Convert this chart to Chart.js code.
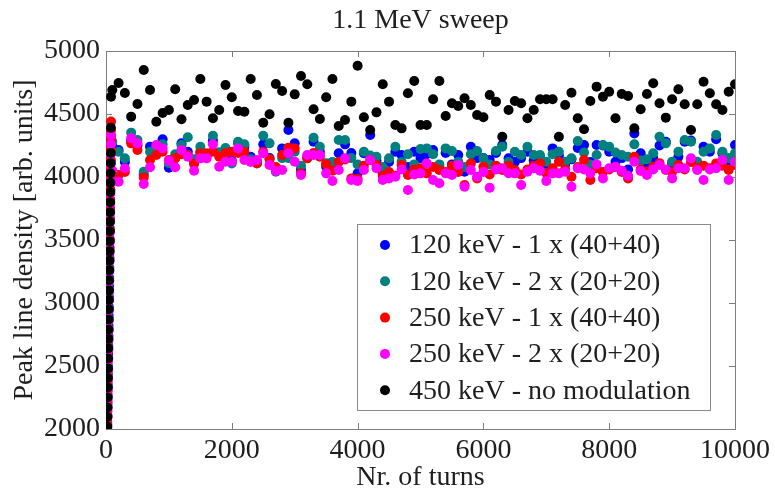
<!DOCTYPE html>
<html>
<head>
<meta charset="utf-8">
<script src="https://cdn.jsdelivr.net/npm/chart.js@4.4.1/dist/chart.umd.min.js"></script>
<style>
  html, body { margin: 0; padding: 0; background: #fff; }
  #wrap { width: 775px; height: 492px; }
</style>
</head>
<body>
<div id="wrap"><canvas id="myChart" width="775" height="492"></canvas></div>
<script>
// turns of the regular samples (every 100 turns)
var turns = [
  100, 200, 300, 400, 500, 600, 700, 800, 900, 1000,
  1100, 1200, 1300, 1400, 1500, 1600, 1700, 1800, 1900, 2000,
  2100, 2200, 2300, 2400, 2500, 2600, 2700, 2800, 2900, 3000,
  3100, 3200, 3300, 3400, 3500, 3600, 3700, 3800, 3900, 4000,
  4100, 4200, 4300, 4400, 4500, 4600, 4700, 4800, 4900, 5000,
  5100, 5200, 5300, 5400, 5500, 5600, 5700, 5800, 5900, 6000,
  6100, 6200, 6300, 6400, 6500, 6600, 6700, 6800, 6900, 7000,
  7100, 7200, 7300, 7400, 7500, 7600, 7700, 7800, 7900, 8000,
  8100, 8200, 8300, 8400, 8500, 8600, 8700, 8800, 8900, 9000,
  9100, 9200, 9300, 9400, 9500, 9600, 9700, 9800, 9900, 10000
];

// first turns (the steep rise at injection)
var rampTurns = [20, 22, 24, 26, 28, 30, 32, 34, 36, 38, 40, 42, 44, 46, 48, 50,
  52, 54, 56, 58, 60, 62, 64, 66, 68, 70, 72, 74, 76, 78, 80];

var labels = [
  "120 keV - 1 x (40+40)",
  "120 keV - 2 x (20+20)",
  "250 keV - 1 x (40+40)",
  "250 keV - 2 x (20+20)",
  "450 keV - no modulation"
];
var colors = ["#0000ff", "#008080", "#ff0000", "#ff00ff", "#000000"];

var blueRamp = [2040, 2110, 2200, 2270, 2350, 2430, 2500, 2590, 2660, 2740, 2820, 2900, 2970, 3050, 3130, 3200,
  3280, 3360, 3440, 3510, 3590, 3670, 3750, 3820, 3900, 3980, 4060, 4130, 4210, 4260, 4300];
var tealRamp = [2030, 2100, 2180, 2260, 2340, 2420, 2490, 2570, 2650, 2730, 2800, 2880, 2960, 3040, 3110, 3190,
  3270, 3350, 3420, 3500, 3580, 3660, 3730, 3810, 3890, 3970, 4040, 4120, 4200, 4270, 4330];
var redRamp = [2060, 2140, 2220, 2300, 2380, 2460, 2540, 2620, 2700, 2780, 2860, 2940, 3020, 3100, 3180, 3260,
  3340, 3420, 3500, 3580, 3660, 3740, 3820, 3900, 3980, 4060, 4140, 4220, 4300, 4370, 4440];
var magentaRamp = [2010, 2090, 2160, 2240, 2320, 2400, 2470, 2550, 2630, 2710, 2780, 2860, 2940, 3020, 3090, 3170,
  3250, 3330, 3400, 3480, 3560, 3640, 3710, 3790, 3870, 3950, 4020, 4100, 4180, 4260, 4330];
var blackRamp = [2020, 2095, 2170, 2250, 2330, 2405, 2480, 2560, 2640, 2715, 2790, 2870, 2950, 3025, 3100, 3180,
  3260, 3335, 3410, 3490, 3570, 3645, 3720, 3800, 3880, 3955, 4030, 4110, 4190, 4390, 4637];

var blue = [
  4250, 4214, 4120, 4290, 4250, 4020, 4241, 4230, 4299, 4074,
  4150, 4267, 4200, 4120, 4200, 4170, 4290, 4190, 4201, 4130,
  4270, 4240, 4160, 4120, 4259, 4150, 4060, 4227, 4373, 4267,
  4060, 4160, 4280, 4200, 4082, 4080, 4188, 4259, 4190, 4030,
  4188, 4333, 4130, 4029, 4120, 4200, 4174, 4080, 4200, 4150,
  4180, 4214, 4080, 4190, 4100, 4174, 4042, 4240, 4150, 4150,
  4135, 4190, 4254, 4148, 4120, 4150, 4200, 4130, 4150, 4080,
  4227, 4170, 4100, 4140, 4230, 4254, 4120, 4254, 4250, 4200,
  4121, 4150, 4060, 4346, 4188, 4090, 4150, 4250, 4280, 4110,
  4160, 4280, 4290, 4100, 4240, 4200, 4300, 4188, 4120, 4254
];
var teal = [
  4280, 4200, 4148, 4352, 4294, 4042, 4200, 4240, 4260, 4110,
  4180, 4254, 4315, 4140, 4240, 4170, 4328, 4196, 4230, 4108,
  4280, 4259, 4140, 4108, 4328, 4267, 4042, 4150, 4150, 4200,
  4090, 4148, 4312, 4240, 4110, 4120, 4293, 4293, 4150, 4100,
  4200, 4170, 4161, 4080, 4148, 4240, 4120, 4180, 4100, 4222,
  4227, 4180, 4100, 4227, 4206, 4120, 4080, 4180, 4206, 4148,
  4100, 4206, 4240, 4120, 4201, 4174, 4240, 4174, 4174, 4121,
  4180, 4200, 4121, 4148, 4285, 4195, 4100, 4174, 4254, 4240,
  4195, 4174, 4161, 4259, 4130, 4140, 4188, 4320, 4267, 4121,
  4201, 4294, 4280, 4121, 4200, 4227, 4333, 4200, 4150, 4188
];
var red = [
  4020, 4016, 4040, 4267, 4214, 3997, 4135, 4175, 4201, 4135,
  4148, 4180, 4175, 4103, 4188, 4188, 4200, 4161, 4188, 4201,
  4190, 4201, 4122, 4110, 4201, 4140, 4080, 4174, 4233, 4227,
  4029, 4150, 4190, 4161, 4100, 4050, 4120, 4140, 3989, 3984,
  4090, 4135, 4095, 4010, 4040, 4010, 4095, 4016, 4060, 4070,
  4029, 4080, 4055, 4040, 4090, 4040, 3936, 4108, 3989, 4082,
  4020, 4090, 4055, 4090, 4055, 4020, 4060, 4090, 4108, 4030,
  4070, 4121, 4060, 4002, 4080, 4135, 3976, 4070, 4040, 4060,
  4080, 4040, 3989, 4161, 4060, 4042, 4080, 4110, 4055, 4040,
  4095, 4060, 4120, 4070, 4090, 4069, 4108, 4090, 4055, 4095
];
var magenta = [
  4050, 3963, 4069, 4307, 4267, 3944, 4077, 4254, 4227, 4129,
  4077, 4214, 4161, 4050, 4148, 4148, 4259, 4082, 4121, 4121,
  4227, 4135, 4121, 4135, 4188, 4095, 4047, 4055, 4188, 4121,
  4016, 4174, 4174, 4174, 4029, 3968, 4055, 4148, 3976, 3968,
  4055, 4135, 4069, 3976, 3989, 4002, 4060, 3897, 4020, 4029,
  4108, 3976, 3950, 4029, 4016, 4095, 3923, 4055, 4002, 4040,
  3915, 4060, 4069, 4030, 4029, 3936, 4042, 4069, 4050, 3968,
  4029, 4029, 4042, 3923, 4069, 4060, 4029, 4100, 3989, 4069,
  4082, 4050, 4010, 4121, 4047, 4016, 4060, 4095, 4060, 3989,
  4069, 4069, 4148, 4055, 3976, 4060, 4069, 4135, 3976, 4121
];
var black = [
  4690, 4746, 4667, 4479, 4579, 4849, 4690, 4439, 4508, 4532,
  4696, 4458, 4571, 4611, 4778, 4598, 4466, 4532, 4730, 4633,
  4524, 4518, 4778, 4651, 4431, 4498, 4738, 4683, 4431, 4656,
  4802, 4736, 4537, 4460, 4633, 4778, 4405, 4452, 4598, 4883,
  4474, 4373, 4513, 4736, 4598, 4413, 4386, 4664, 4762, 4413,
  4413, 4617, 4762, 4484, 4585, 4563, 4625, 4571, 4492, 4474,
  4651, 4598, 4320, 4532, 4603, 4585, 4466, 4532, 4617, 4617,
  4617, 4320, 4571, 4669, 4466, 4379, 4603, 4717, 4637, 4677,
  4466, 4659, 4643, 4386, 4537, 4659, 4744, 4585, 4471, 4617,
  4696, 4577, 4373, 4577, 4756, 4664, 4577, 4532, 4677, 4736
];

var xTicks = [0, 2000, 4000, 6000, 8000, 10000];
var yTicks = [2000, 2500, 3000, 3500, 4000, 4500, 5000];

var serif = "'Liberation Serif', 'DejaVu Serif', serif";
var textColor = "#1e1e1e";
var dot = 5;

function points(ramp, vals) {
  var out = [];
  for (var i = 0; i < rampTurns.length; i++) out.push({x: rampTurns[i], y: ramp[i]});
  for (var j = 0; j < turns.length; j++) out.push({x: turns[j], y: vals[j]});
  return out;
}

var series = [
  points(blueRamp, blue),
  points(tealRamp, teal),
  points(redRamp, red),
  points(magentaRamp, magenta),
  points(blackRamp, black)
];

// drawn first -> bottom: blue, teal, red, magenta, black on top
var datasets = series.map(function (d, i) {
  return {
    label: labels[i],
    data: d,
    order: 5 - i,
    backgroundColor: colors[i],
    borderColor: colors[i],
    borderWidth: 0,
    pointRadius: dot,
    pointHoverRadius: dot,
    showLine: false
  };
});

// box round the plot with small inward ticks
var frame = {
  id: "frame",
  beforeDatasetsDraw: function (chart) {
    var ctx = chart.ctx, a = chart.chartArea;
    var xs = chart.scales.x, ys = chart.scales.y;
    ctx.save();
    ctx.strokeStyle = "#7d7d7d";
    ctx.lineWidth = 1;
    ctx.strokeRect(Math.round(a.left) + 0.5, Math.round(a.top) + 0.5,
      Math.round(a.width), Math.round(a.height));
    ctx.beginPath();
    xTicks.slice(1, -1).forEach(function (v) {
      var px = Math.round(xs.getPixelForValue(v)) + 0.5;
      ctx.moveTo(px, a.bottom); ctx.lineTo(px, a.bottom - 6);
      ctx.moveTo(px, a.top); ctx.lineTo(px, a.top + 6);
    });
    yTicks.slice(1, -1).forEach(function (v) {
      var py = Math.round(ys.getPixelForValue(v)) + 0.5;
      ctx.moveTo(a.left, py); ctx.lineTo(a.left + 6, py);
      ctx.moveTo(a.right, py); ctx.lineTo(a.right - 6, py);
    });
    ctx.stroke();
    ctx.restore();
  }
};

// legend box in the lower right of the plot
var boxLegend = {
  id: "boxLegend",
  afterDraw: function (chart) {
    var ctx = chart.ctx, a = chart.chartArea;
    var w = 353, h = 186;
    var left = a.right - 25 - w, top = a.bottom - 19 - h;
    ctx.save();
    ctx.fillStyle = "#fff";
    ctx.fillRect(left, top, w, h);
    ctx.strokeStyle = "#8a8a8a";
    ctx.lineWidth = 1;
    ctx.strokeRect(Math.round(left) + 0.5, Math.round(top) + 0.5, w, h);
    ctx.font = "28px " + serif;
    ctx.textBaseline = "middle";
    chart.data.datasets.forEach(function (ds, i) {
      var cy = top + 21 + i * 36.3;
      ctx.fillStyle = ds.backgroundColor;
      ctx.beginPath();
      ctx.arc(left + 28, cy, dot, 0, Math.PI * 2);
      ctx.fill();
      ctx.fillStyle = textColor;
      ctx.fillText(ds.label, left + 52, cy + 1);
    });
    ctx.restore();
  }
};

var ctx = document.getElementById("myChart");
var myChart = new Chart(ctx, {
  type: "scatter",
  data: { datasets: datasets },
  plugins: [frame, boxLegend],
  options: {
    responsive: false,
    animation: false,
    devicePixelRatio: 1,
    layout: { padding: { left: 0, right: 39, top: 0, bottom: 0 } },
    plugins: {
      legend: { display: false },
      tooltip: { enabled: false },
      title: {
        display: true,
        text: "1.1 MeV sweep",
        fullSize: false,
        color: textColor,
        font: { family: serif, size: 28, weight: "normal", lineHeight: 1 },
        padding: { top: 7, bottom: 16 }
      }
    },
    scales: {
      x: {
        type: "linear",
        min: 0,
        max: 10000,
        grid: { display: false, drawTicks: false },
        border: { display: false },
        afterBuildTicks: function (s) { s.ticks = xTicks.map(function (v) { return {value: v}; }); },
        afterFit: function (s) { s.height = 63; },
        ticks: {
          color: textColor,
          padding: 5,
          maxRotation: 0,
          font: { family: serif, size: 28 },
          callback: function (v) { return String(v); }
        },
        title: {
          display: true,
          text: "Nr. of turns",
          color: textColor,
          font: { family: serif, size: 28, lineHeight: 1 },
          padding: { top: 0, bottom: 0 }
        }
      },
      y: {
        type: "linear",
        min: 2000,
        max: 5000,
        grid: { display: false, drawTicks: false },
        border: { display: false },
        afterBuildTicks: function (s) { s.ticks = yTicks.map(function (v) { return {value: v}; }); },
        afterFit: function (s) { s.width = 106; },
        ticks: {
          color: textColor,
          padding: 6,
          font: { family: serif, size: 28 },
          callback: function (v) { return String(v); }
        },
        title: {
          display: true,
          text: "Peak line density [arb. units]",
          color: textColor,
          font: { family: serif, size: 28, lineHeight: 1 },
          padding: { top: 11, bottom: 0 }
        }
      }
    }
  }
});
</script>
</body>
</html>
